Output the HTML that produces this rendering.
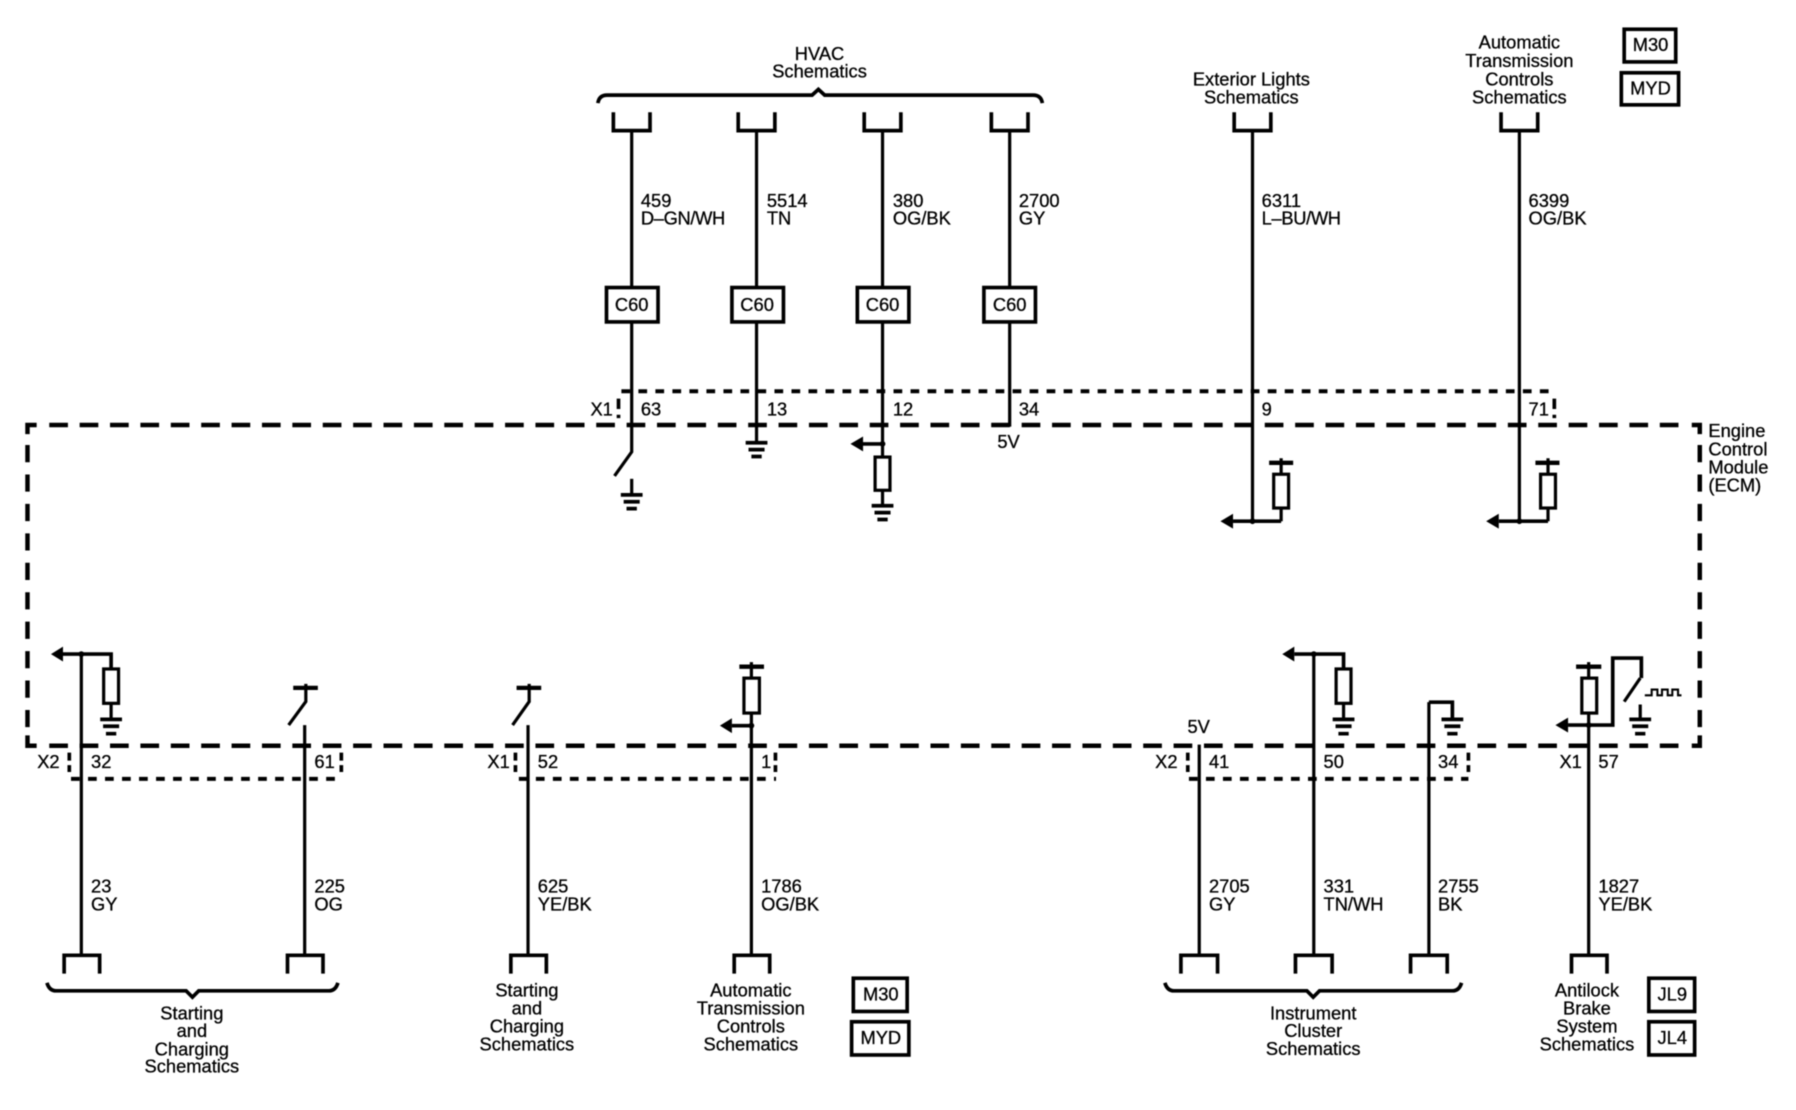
<!DOCTYPE html>
<html><head><meta charset="utf-8"><title>ECM schematic</title>
<style>
html,body{margin:0;padding:0;background:#fff}
svg{display:block;width:1796px;height:1110px;filter:blur(0.6px)}
text{font-family:"Liberation Sans",Arial,sans-serif;font-size:16px;fill:#000;stroke:#000;stroke-width:0.25px;letter-spacing:0}
.m{text-anchor:middle}
.w{fill:none;stroke:#000;stroke-width:2.8}
.t{fill:none;stroke:#000;stroke-width:3.2}
.f{fill:none;stroke:#000;stroke-width:3.9;stroke-dasharray:16.3 10.23}
.v{fill:none;stroke:#000;stroke-width:3.9;stroke-dasharray:15 10.7}
.c{fill:none;stroke:#000;stroke-width:3.9}
.d{fill:none;stroke:#000;stroke-width:3.5;stroke-dasharray:7.6 7.25}
.b{fill:#fff;stroke:#000;stroke-width:3.2}
.r{fill:#fff;stroke:#000;stroke-width:2.8}
</style></head><body>
<svg xmlns="http://www.w3.org/2000/svg" viewBox="0 0 1568 969">
<rect width="1568" height="969" fill="#fff"/>
<!-- frame -->
<path class="c" d="M24 379V371H32M1477 371H1484V379M24 642V651H32M1477 651H1484V642"/>
<path class="f" d="M43 371H1466M43 651H1466"/>
<path class="v" d="M24 388.500V636M1484 388.500V636"/>
<!-- inner connector dashes -->
<path class="d" d="M542.500 341.500H1357"/>
<path class="t" d="M540 348V357M540 362V365M1357 348V357M1357 362V365"/>
<path class="d" d="M62 680H298M453 680H677.500M1038 680H1282"/>
<path class="t" d="M60.500 657V664M60.500 668V674M298 657V664M298 668V674M450 657V664M450 668V674M677 657V664M677 668V674M1037 657V664M1037 668V674M1282 657V664M1282 668V674"/>
<g transform="translate(0.5,0)">
<!-- top wires -->
<path class="w" d="M551 114V394.500L536 415.500M660 114V386M770 114V399M770 428V441M881 114V371H865M1093 114V455M1326 114V455"/>
<path class="w" d="M551 418V432"/>
<!-- top connectors -->
<path class="t" d="M535 98V114H567V98M644 98V114H676V98M754 98V114H786V98M865 98V114H897V98M1077 98V114H1109V98M1310 98V114H1342V98"/>
<!-- C60 -->
<rect class="b" x="529" y="251" width="45" height="30"/>
<rect class="b" x="638.500" y="251" width="45" height="30"/>
<rect class="b" x="748" y="251" width="45" height="30"/>
<rect class="b" x="858.500" y="251" width="45" height="30"/>
<!-- grounds top -->
<path class="t" d="M541.500 432H560.500M544 438H558M546.500 444H555.500M650.500 386.500H669.500M653 392.500H667M655.500 398.500H664.500M760.500 441.500H779.500M763 447.500H777M765.500 453.500H774.500"/>
<!-- R + arrow on 12 -->
<rect class="r" x="763.500" y="399" width="13" height="29"/>
<path class="t" d="M752 387.500H770"/><path d="M742 387.500L753 381V394Z" fill="#000"/><circle cx="770" cy="387.500" r="2.500" fill="#000"/>
<!-- R ext lights -->
<path class="w" d="M1118 455V443.500M1118 414V400"/><path class="t" d="M1076 455H1118"/><path fill="none" stroke="#000" stroke-width="3.8" d="M1107.500 404H1128.500"/>
<rect class="r" x="1111.500" y="414" width="13" height="29.500"/>
<path d="M1065 455L1076 448.500V461.500Z" fill="#000"/><circle cx="1093" cy="455" r="2.500" fill="#000"/>
<!-- R trans -->
<path class="w" d="M1351 455V443.500M1351 414V400"/><path class="t" d="M1308 455H1351"/><path fill="none" stroke="#000" stroke-width="3.8" d="M1340 404H1361"/>
<rect class="r" x="1344.500" y="414" width="13" height="29.500"/>
<path d="M1297 455L1308 448.500V461.500Z" fill="#000"/><circle cx="1326" cy="455" r="2.500" fill="#000"/>
</g>
<!-- HVAC brace -->
<path class="t" d="M522 90Q523 83 530 83H709L714.500 78L720 83H902Q909 83 910 90"/>
<g transform="translate(1,0)">
<!-- Bottom wires -->
<path class="w" d="M70 571V834M265 633V834M460 633V834M655 622V834M1046 650V834M1146 571V834M1246.500 834V613"/>
<path class="w" d="M1386 622V834M655 578V592M1386 578V592"/>
<!-- bottom connectors -->
<path class="t" d="M55 850V834H86V850M250 850V834H281V850M445 850V834H476V850M640 850V834H671V850M1030 850V834H1062V850M1130 850V834H1162V850M1230.500 850V834H1262.500V850M1371 850V834H1402V850"/>
<!-- 23 -->
<path class="t" d="M54 571H96V584"/><path class="w" d="M96 614V628"/>
<rect class="r" x="89.500" y="584" width="13" height="30"/>
<path d="M43.500 571L54 564.500V577.500Z" fill="#000"/><circle cx="70" cy="571" r="2.500" fill="#000"/>
<path class="t" d="M86.500 628H105.500M89 634H103M91.500 640.500H100.500"/>
<!-- switches -->
<path class="w" d="M251 633L266 612.500V597M446.500 633L461 612.500V597"/>
<path fill="none" stroke="#000" stroke-width="3.8" d="M255 600.500H276.500M450 600.500H471.500M644.500 582H666M1375 582H1397"/>
<!-- 1786 -->
<rect class="r" x="648.500" y="592" width="13.500" height="30.500"/>
<path class="t" d="M638 633.500H655"/><path d="M627.500 633.500L638 627V640Z" fill="#000"/><circle cx="655" cy="633.500" r="2.500" fill="#000"/>
<!-- 331 -->
<path class="t" d="M1129 571H1172V584"/><path class="w" d="M1172 614V628"/>
<rect class="r" x="1165.500" y="584" width="13" height="30"/>
<path d="M1118.500 571L1129 564.500V577.500Z" fill="#000"/><circle cx="1146" cy="571" r="2.500" fill="#000"/>
<path class="t" d="M1162.500 628H1181.500M1165 634H1179M1167.500 640.500H1176.500"/>
<!-- 2755 -->
<path class="t" d="M1246.500 613H1267V627M1257.500 628H1276.500M1260 634H1274M1262.500 640.500H1271.500"/>
<!-- 1827 -->
<rect class="r" x="1380" y="592" width="13" height="30.500"/>
<path class="t" d="M1368 633H1407V574.500H1432V592"/><path d="M1357 633L1368 626.500V639.500Z" fill="#000"/><circle cx="1386" cy="633" r="2.500" fill="#000"/>
<path class="w" d="M1431 592L1417 612.500M1431 615V628"/>
<path class="t" d="M1421.500 628H1440.500M1424 634H1438M1426.500 640.500H1435.500"/>
<path fill="none" stroke="#000" stroke-width="1.800" d="M1435 607H1441V602H1446V607H1450V602H1455V607H1459V602H1464V607H1467"/>
</g>
<!-- braces -->
<path class="t" d="M41 858Q43 865 49 865H162.500L168 870.500L173.500 865H287Q293 865 295 858"/>
<path class="t" d="M1017 858Q1019 865 1025 865H1141L1146.500 870.500L1152 865H1268Q1274 865 1276 858"/>
<!-- boxes -->
<rect class="b" x="1418" y="25.500" width="45" height="28.500"/>
<rect class="b" x="1415.500" y="63.500" width="50" height="28"/>
<rect class="b" x="745" y="854" width="47" height="29"/>
<rect class="b" x="743.500" y="892" width="50" height="29"/>
<rect class="b" x="1439.500" y="854" width="40" height="29"/>
<rect class="b" x="1439.500" y="892" width="40" height="29"/>
<g transform="translate(0.5,-0.5)">
<text class="m" x="1440.500" y="45">M30</text><text class="m" x="1440.500" y="83">MYD</text>
<text class="m" x="768.500" y="874">M30</text><text class="m" x="768.500" y="912">MYD</text>
<text class="m" x="1459.500" y="874">JL9</text><text class="m" x="1459.500" y="912">JL4</text>
<text class="m" x="551" y="272">C60</text><text class="m" x="660.500" y="272">C60</text><text class="m" x="770" y="272">C60</text><text class="m" x="881" y="272">C60</text>
<!-- top text -->
<text class="m" x="715" y="53">HVAC</text><text class="m" x="715" y="68">Schematics</text>
<text class="m" x="1092" y="75">Exterior Lights</text><text class="m" x="1092" y="91">Schematics</text>
<text class="m" x="1326" y="43">Automatic</text><text class="m" x="1326" y="59">Transmission</text><text class="m" x="1326" y="75">Controls</text><text class="m" x="1326" y="91">Schematics</text>
<text x="559" y="181">459</text><text x="559" y="196.500" style="letter-spacing:-.3px">D–GN/WH</text>
<text x="669" y="181">5514</text><text x="669" y="196.500">TN</text>
<text x="779" y="181">380</text><text x="779" y="196.500">OG/BK</text>
<text x="889" y="181">2700</text><text x="889" y="196.500">GY</text>
<text x="1101" y="181">6311</text><text x="1101" y="196.500" style="letter-spacing:-.3px">L–BU/WH</text>
<text x="1334" y="181">6399</text><text x="1334" y="196.500">OG/BK</text>
<text x="515" y="363">X1</text><text x="559" y="363">63</text><text x="669" y="363">13</text><text x="779" y="363">12</text><text x="889" y="363">34</text><text x="1101" y="363">9</text><text x="1334" y="363">71</text>
<text class="m" x="880" y="391.500">5V</text>
<text x="1491" y="382">Engine</text><text x="1491" y="398">Control</text><text x="1491" y="414">Module</text><text x="1491" y="429.500">(ECM)</text>
<!-- bottom text -->
<text x="32" y="671">X2</text><text x="79" y="671">32</text><text x="274" y="671">61</text><text x="425" y="671">X1</text><text x="469" y="671">52</text><text x="664" y="671">1</text>
<text x="1008" y="671">X2</text><text x="1055" y="671">41</text><text x="1155" y="671">50</text><text x="1255" y="671">34</text><text x="1361" y="671">X1</text><text x="1395" y="671">57</text>
<text class="m" x="1046" y="640.500">5V</text>
<text x="79" y="779.500">23</text><text x="79" y="795.500">GY</text>
<text x="274" y="779.500">225</text><text x="274" y="795.500">OG</text>
<text x="469" y="779.500">625</text><text x="469" y="795.500">YE/BK</text>
<text x="664" y="779.500">1786</text><text x="664" y="795.500">OG/BK</text>
<text x="1055" y="779.500">2705</text><text x="1055" y="795.500">GY</text>
<text x="1155" y="779.500">331</text><text x="1155" y="795.500">TN/WH</text>
<text x="1255" y="779.500">2755</text><text x="1255" y="795.500">BK</text>
<text x="1395" y="779.500">1827</text><text x="1395" y="795.500">YE/BK</text>
<text class="m" x="167" y="890.500">Starting</text><text class="m" x="167" y="906">and</text><text class="m" x="167" y="922">Charging</text><text class="m" x="167" y="937">Schematics</text>
<text class="m" x="459.500" y="870.500">Starting</text><text class="m" x="459.500" y="886">and</text><text class="m" x="459.500" y="902">Charging</text><text class="m" x="459.500" y="917.500">Schematics</text>
<text class="m" x="655" y="870.500">Automatic</text><text class="m" x="655" y="886">Transmission</text><text class="m" x="655" y="902">Controls</text><text class="m" x="655" y="917.500">Schematics</text>
<text class="m" x="1146" y="890.500">Instrument</text><text class="m" x="1146" y="906">Cluster</text><text class="m" x="1146" y="921.500">Schematics</text>
<text class="m" x="1385" y="870.500">Antilock</text><text class="m" x="1385" y="886">Brake</text><text class="m" x="1385" y="902">System</text><text class="m" x="1385" y="917.500">Schematics</text>
</g>
</svg>
</body></html>
